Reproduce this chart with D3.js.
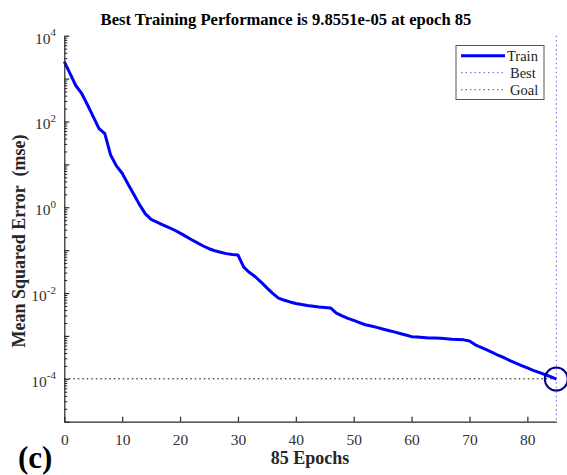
<!DOCTYPE html>
<html><head><meta charset="utf-8">
<script src="https://cdn.jsdelivr.net/npm/d3@7"></script>
<style>body{margin:0;background:#fff}svg{display:block}text{font-family:"Liberation Serif","Times New Roman",serif}</style>
</head><body><div id="chart"></div>
<script>
const epochs = [0,1,2,3,4,5,6,7,8,9,10,11,12,13,14,15,16,17,18,19,20,21,22,23,24,25,26,27,28,29,30,31,32,33,34,35,36,37,38,39,40,41,42,43,44,45,46,47,48,49,50,51,52,53,54,55,56,57,58,59,60,61,62,63,64,65,66,67,68,69,70,71,72,73,74,75,76,77,78,79,80,81,82,83,84,85];
const trainMse = [2500,1300,680,450,245,130,68,52,16.5,9.2,6.2,3.5,2.0,1.15,0.70,0.52,0.45,0.39,0.34,0.295,0.25,0.21,0.175,0.148,0.125,0.108,0.097,0.089,0.083,0.079,0.077,0.040,0.030,0.024,0.018,0.0132,0.0098,0.0076,0.0068,0.0062,0.0057,0.0054,0.0051,0.0049,0.0047,0.0046,0.0045,0.0034,0.00295,0.00257,0.0023,0.00204,0.00182,0.0017,0.00158,0.00145,0.00134,0.00124,0.00114,0.00105,0.00096,0.00094,0.00092,0.0009,0.00089,0.00088,0.00086,0.00084,0.00083,0.00081,0.00076,0.00062,0.00054,0.00047,0.00041,0.00035,0.00031,0.000266,0.000232,0.000204,0.00018,0.000158,0.000141,0.000126,0.000112,0.000098551];
const bestEpoch = 85;
const bestValue = 9.8551e-05;
const goalValue = 1e-4;
const xTicks = [0,10,20,30,40,50,60,70,80];
const yTickExps = [4,2,0,-2,-4];
const legendItems = ["Train","Best","Goal"];
const titleText = "Best Training Performance is 9.8551e-05 at epoch 85";
const xLabel = "85 Epochs";
const yLabel = "Mean Squared Error  (mse)";
const panelLabel = "(c)";

const W = 567, H = 475;
const svg = d3.select("#chart").append("svg").attr("width", W).attr("height", H);
const x = d3.scaleLinear().domain([0, 85]).range([64.3, 556.3]);
const y = d3.scaleLog().domain([1e-5, 1e4]).range([421.7, 35.7]);
const axisColor = "#262626";

// goal line
svg.append("line").attr("x1", x(0)).attr("x2", x(85)).attr("y1", y(goalValue)).attr("y2", y(goalValue))
  .attr("stroke", "#000").attr("stroke-width", 1).attr("stroke-dasharray", "1.5,3");
// best line
svg.append("line").attr("x1", x(bestEpoch)).attr("x2", x(bestEpoch)).attr("y1", y(1e4)).attr("y2", y(1e-5))
  .attr("stroke", "#5a5aff").attr("stroke-width", 1).attr("stroke-dasharray", "1.5,3");

// train line
const line = d3.line().x((d,i) => x(epochs[i])).y(d => y(d));
svg.append("path").datum(trainMse).attr("d", line).attr("fill", "none")
  .attr("stroke", "#0000ff").attr("stroke-width", 3).attr("stroke-linejoin", "round");

// best circle
svg.append("circle").attr("cx", x(bestEpoch)).attr("cy", y(bestValue)).attr("r", 11.5)
  .attr("fill", "none").attr("stroke", "#00008b").attr("stroke-width", 2);

// x axis
const xAxis = d3.axisBottom(x).tickValues(xTicks).tickSizeInner(-5).tickSizeOuter(0).tickPadding(12);
const gx = svg.append("g").attr("transform", `translate(0,${y(1e-5)})`).call(xAxis);
gx.select(".domain").attr("stroke", axisColor).attr("stroke-width", 1.2);
gx.selectAll(".tick line").attr("stroke", axisColor).attr("stroke-width", 1.2);
gx.selectAll(".tick text").attr("font-size", 15.5).attr("fill", "#333")
  .attr("font-family", "Liberation Serif, serif");

// y axis with minor ticks
const minors = [];
for (let e = -5; e < 4; e++) for (let m = 2; m <= 9; m++) minors.push(m * Math.pow(10, e));
const yAxisMinor = d3.axisLeft(y).tickValues(minors).tickSizeInner(-3).tickSizeOuter(0).tickFormat("");
const gym = svg.append("g").attr("transform", `translate(${x(0)},0)`).call(yAxisMinor);
gym.select(".domain").remove();
gym.selectAll(".tick line").attr("stroke", axisColor).attr("stroke-width", 1);
const allMajors = d3.range(-5, 5).map(e => Math.pow(10, e));
const yAxis = d3.axisLeft(y).tickValues(allMajors).tickSizeInner(-5).tickSizeOuter(0).tickFormat("");
const gy = svg.append("g").attr("transform", `translate(${x(0)},0)`).call(yAxis);
gy.select(".domain").attr("stroke", axisColor).attr("stroke-width", 1.2);
gy.selectAll(".tick line").attr("stroke", axisColor).attr("stroke-width", 1.2);

// y tick labels with superscripts
const yl = svg.append("g");
yTickExps.forEach(e => {
  const t = yl.append("text").attr("x", 56).attr("y", y(Math.pow(10, e)) + 8)
    .attr("text-anchor", "end").attr("font-size", 15.5).attr("fill", "#333");
  t.append("tspan").text("10");
  t.append("tspan").attr("dy", -7.5).attr("font-size", 11).text(String(e));
});

// title & labels
svg.append("text").attr("x", 286).attr("y", 25).attr("text-anchor", "middle")
  .attr("font-size", 16.6).attr("font-weight", "bold").attr("fill", "#000").text(titleText);
svg.append("text").attr("x", 310).attr("y", 464).attr("text-anchor", "middle")
  .attr("font-size", 18).attr("font-weight", "bold").attr("fill", "#262626").text(xLabel);
svg.append("text").attr("transform", `translate(25,${241}) rotate(-90)`).attr("text-anchor", "middle")
  .attr("font-size", 18).attr("font-weight", "bold").attr("fill", "#262626").style("white-space", "pre").text(yLabel);
svg.append("text").attr("x", 18).attr("y", 468).attr("font-size", 31).attr("font-weight", "bold")
  .attr("fill", "#000").text(panelLabel);

// legend
const lg = svg.append("g");
lg.append("rect").attr("x", 456).attr("y", 45.5).attr("width", 88).attr("height", 54)
  .attr("fill", "#fff").attr("stroke", "#555").attr("stroke-width", 1);
const rowY = [55.7, 72.7, 89.7];
const styles = [
  {stroke: "#0000ff", w: 3, dash: null},
  {stroke: "#5a5aff", w: 1, dash: "1.5,3"},
  {stroke: "#555", w: 1, dash: "1.5,3"}
];
legendItems.forEach((name, i) => {
  const l = lg.append("line").attr("x1", 461).attr("x2", 505).attr("y1", rowY[i]).attr("y2", rowY[i])
    .attr("stroke", styles[i].stroke).attr("stroke-width", styles[i].w);
  if (styles[i].dash) l.attr("stroke-dasharray", styles[i].dash);
  lg.append("text").attr("x", i === 0 ? 507 : 510).attr("y", rowY[i] + 5).attr("font-size", 14.5)
    .attr("fill", "#222").text(name);
});
</script></body></html>
